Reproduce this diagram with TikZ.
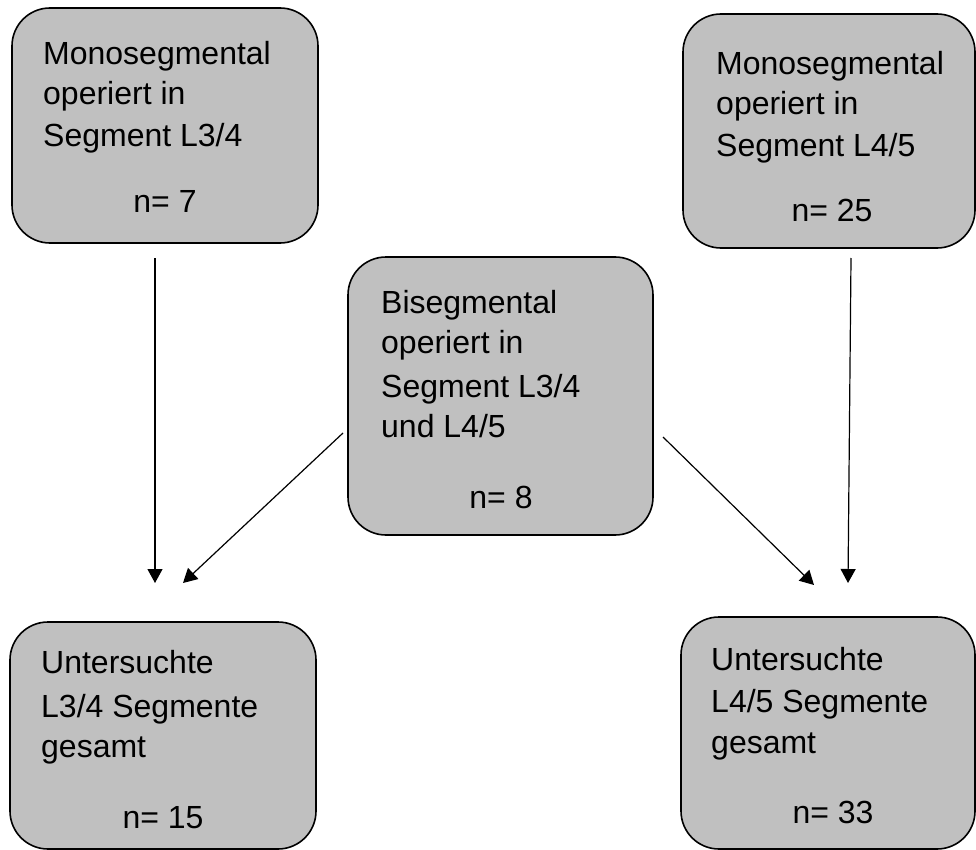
\documentclass[tikz,border=0pt]{standalone}
\usepackage{fontspec}
\setmainfont{Liberation Sans}
\usetikzlibrary{arrows.meta}
\definecolor{boxgray}{RGB}{192,192,192}
\begin{document}
\begin{tikzpicture}[x=1pt,y=-1pt,
  box/.style={draw=black, fill=boxgray, line width=1.6pt, rounded corners=38pt, inner sep=0pt},
  txt/.style={inner sep=0pt, anchor=base west, font=\fontsize{32}{38}\selectfont},
  num/.style={inner sep=0pt, anchor=base, font=\fontsize{32}{38}\selectfont},
  arr/.style={line width=1.2pt, -{Triangle[length=14pt,width=15pt]}}]
\useasboundingbox (0,0) rectangle (976,850);
% boxes
\node[box, minimum width=306pt, minimum height=235pt] (b1) at (165,125.5) {};
\node[box, minimum width=292pt, minimum height=234pt] (b2) at (829,131) {};
\node[box, minimum width=305pt, minimum height=278pt] (b3) at (500.5,396) {};
\node[box, minimum width=306pt, minimum height=227pt] (b4) at (163,735.5) {};
\node[box, minimum width=294pt, minimum height=232pt] (b5) at (828,733) {};
% texts box 1
\node[txt] (t1a) at (43,65) {Monosegmental};
\node[txt] (t1b) at (43,105) {operiert in};
\node[txt] (t1c) at (43,147) {Segment L3/4};
\node[num] (t1n) at (165,213) {n= 7};
% texts box 2
\node[txt] (t2a) at (716,75) {Monosegmental};
\node[txt] (t2b) at (716,115) {operiert in};
\node[txt] (t2c) at (716,157) {Segment L4/5};
\node[num] (t2n) at (832,222) {n= 25};
% texts box 3
\node[txt] (t3a) at (381,313) {Bisegmental};
\node[txt] (t3b) at (381,353) {operiert in};
\node[txt] (t3c) at (381,397) {Segment L3/4};
\node[txt] (t3d) at (381,437) {und L4/5};
\node[num] (t3n) at (501,508) {n= 8};
% texts box 4
\node[txt] (t4a) at (41,673) {Untersuchte};
\node[txt] (t4b) at (41,717) {L3/4 Segmente};
\node[txt] (t4c) at (41,757) {gesamt};
\node[num] (t4n) at (163,828) {n= 15};
% texts box 5
\node[txt] (t5a) at (711,670) {Untersuchte};
\node[txt] (t5b) at (711,712) {L4/5 Segmente};
\node[txt] (t5c) at (711,753) {gesamt};
\node[num] (t5n) at (833,823) {n= 33};
% connector ends
\coordinate (a1s) at (155,258);
\coordinate (a1e) at (155,583);
\coordinate (a2s) at (343,433);
\coordinate (a2e) at (183,583);
\coordinate (a3s) at (663,437);
\coordinate (a3e) at (814,585);
\coordinate (a4s) at (851,258);
\coordinate (a4e) at (848,583);
\draw[arr] (a1s) -- (a1e);
\draw[arr] (a2s) -- (a2e);
\draw[arr] (a3s) -- (a3e);
\draw[arr] (a4s) -- (a4e);
\end{tikzpicture}
\end{document}
